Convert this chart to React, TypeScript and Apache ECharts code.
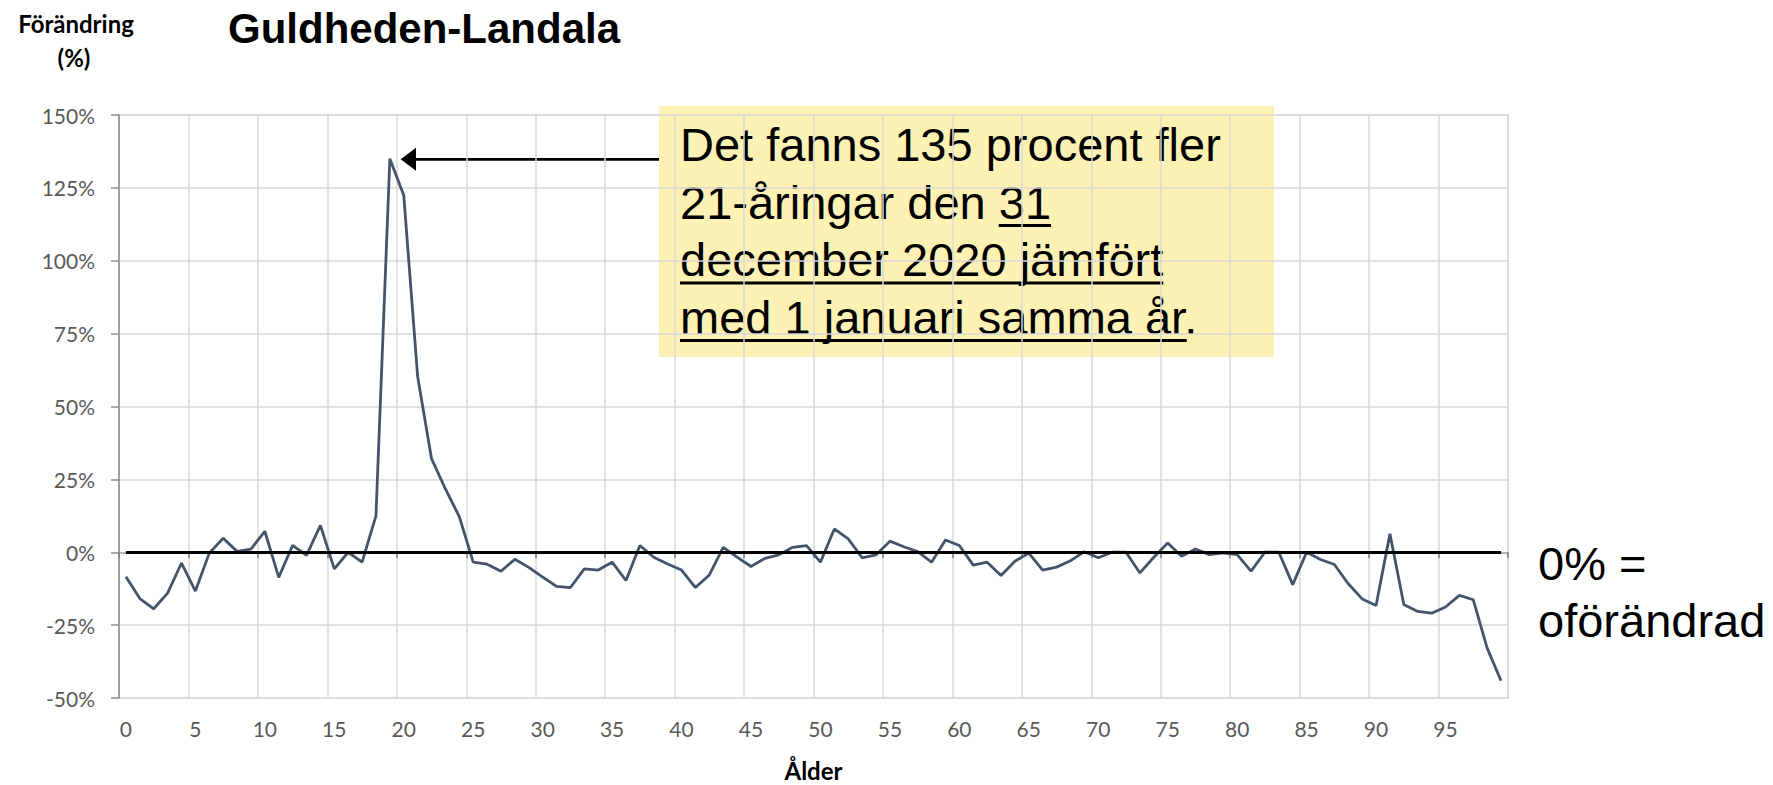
import React, { useEffect, useRef } from "react";
import * as echarts from "echarts";

// Categories: age (Ålder) 0..99
const ages: string[] = Array.from({ length: 100 }, (_, i) => String(i));

// Change in percent per age
const change: number[] = [
  -8.4, -15.9, -19.4, -14.0, -3.7, -13.3, -0.3, 4.8, 0.3, 1.1,
  7.2, -8.6, 2.4, -1.1, 9.2, -5.7, 0, -3.4, 12.5, 135,
  122.5, 60.3, 32.1, 21.7, 12.2, -3.4, -4.1, -6.5, -2.4, -5.2,
  -8.5, -11.7, -12.1, -5.7, -6.1, -3.4, -9.7, 2.3, -1.7, -4.0,
  -6.1, -12.1, -7.8, 1.7, -1.7, -4.9, -2.1, -0.9, 1.7, 2.3,
  -3.4, 8.0, 4.6, -1.9, -0.9, 3.8, 1.9, 0.2, -3.4, 4.2,
  2.3, -4.4, -3.4, -8.0, -3.1, -0.3, -6.1, -5.1, -2.9, 0.2,
  -1.9, 0, 0, -7.1, -1.7, 3.2, -1.4, 1.1, -0.8, -0.2,
  -0.8, -6.5, 0, 0, -11.1, 0, -2.5, -4.2, -10.8, -16.0,
  -18.3, 6.3, -17.9, -20.3, -20.9, -18.8, -14.8, -16.3, -32.9, -44.1,
];

const yMin = -50;
const yMax = 150;
const yStep = 25;

const titleText = "Guldheden-Landala";
const yTitleLines = ["Förändring", "(%)"];
const xTitle = "Ålder";
const noteLine1 = "Det fanns 135 procent fler";
const noteLine2a = "21-åringar den ";
const noteLine2b = "31";
const noteLine3 = "december 2020 jämfört";
const noteLine4a = "med 1 januari samma år";
const noteLine4b = ".";
const zeroNote = ["0% =", "oförändrad"];

const ANN = "'Liberation Sans', Arial, sans-serif";
const CAL = "Lato, 'Open Sans', sans-serif";

function measure(text: string, font: string): number {
  const c = document.createElement("canvas").getContext("2d");
  if (!c) return text.length * 20;
  c.font = font;
  return c.measureText(text).width;
}

function txt(x: number, y: number, text: string, fontSize: number, family: string, weight: string, align = "left") {
  return {
    type: "text",
    x,
    y,
    silent: true,
    style: {
      text,
      fill: "#000",
      fontSize,
      fontFamily: family,
      fontWeight: weight,
      textAlign: align,
      align,
      textVerticalAlign: "middle",
      verticalAlign: "middle",
    },
  };
}

export default function App() {
  const ref = useRef<HTMLDivElement>(null);
  useEffect(() => {
    if (!ref.current) return;
    const chart = echarts.init(ref.current, undefined, { renderer: "svg" });

    const fs = 47;
    const annFont = `${fs}px 'Liberation Sans'`;
    const mid = 0.3465 * fs;
    const tx = 680;
    const base = [161, 218.5, 276, 333.5];
    const ul = 7;
    const w2a = measure(noteLine2a, annFont);
    const w2b = measure(noteLine2b, annFont);
    const w3 = measure(noteLine3, annFont);
    const w4a = measure(noteLine4a, annFont);

    const uline = (x1: number, x2: number, y: number) => ({
      type: "line",
      silent: true,
      shape: { x1, y1: y, x2, y2: y },
      style: { stroke: "#000", lineWidth: 3 },
    });

    const option: any = {
      animation: false,
      backgroundColor: "#fff",
      grid: {
        left: 119,
        right: 265,
        top: 115,
        bottom: 87,
        show: true,
        borderColor: "#d9d9d9",
        borderWidth: 1.5,
        backgroundColor: "transparent",
        containLabel: false,
        outerBoundsMode: "none",
      },
      xAxis: [
        {
          type: "category",
          data: ages,
          boundaryGap: true,
          position: "bottom",
          axisLine: { show: false, onZero: false },
          axisTick: { show: false },
          axisLabel: { interval: 4, fontFamily: CAL, fontSize: 21, color: "#595959", margin: 20 },
          splitLine: { show: true, interval: 4, lineStyle: { color: "#d9d9d9", width: 1.5 } },
          name: xTitle,
          nameLocation: "middle",
          nameGap: 60,
          nameTextStyle: { fontFamily: CAL, fontWeight: "bold", fontSize: 24, color: "#000" },
        },
        {
          type: "category",
          data: ages,
          boundaryGap: true,
          position: "bottom",
          axisLine: { show: true, onZero: true, onZeroAxisIndex: 0, lineStyle: { color: "#a6a6a6", width: 1.5 } },
          axisTick: { show: true, interval: 4, length: 6, lineStyle: { color: "#7f7f7f", width: 1.5 } },
          axisLabel: { show: false },
          splitLine: { show: false },
        },
      ],
      yAxis: {
        type: "value",
        min: yMin,
        max: yMax,
        interval: yStep,
        axisLine: { show: true, lineStyle: { color: "#8c8c8c", width: 1.5 } },
        axisTick: { show: true, length: 8, lineStyle: { color: "#8c8c8c", width: 1.5 } },
        axisLabel: { formatter: "{value}%", fontFamily: CAL, fontSize: 21, color: "#595959", margin: 24 },
        splitLine: { show: true, lineStyle: { color: "#d9d9d9", width: 1.5 } },
      },
      series: [
        {
          type: "line",
          data: change,
          xAxisIndex: 0,
          yAxisIndex: 0,
          symbol: "none",
          lineStyle: { color: "#44546a", width: 2.8 },
          markLine: {
            silent: true,
            symbol: ["none", "none"],
            label: { show: false },
            lineStyle: { color: "#000", width: 3, type: "solid" },
            data: [[{ coord: [ages[0], 0] }, { coord: [ages[ages.length - 1], 0] }]],
          },
        },
      ],
      graphic: [
        txt(228, 43.3 - 0.3465 * 42, titleText, 42, ANN, "bold"),
        txt(76, 23, yTitleLines[0], 24, CAL, "bold", "center"),
        txt(74, 57, yTitleLines[1], 24, CAL, "bold", "center"),
        {
          type: "rect",
          silent: true,
          shape: { x: 659, y: 106, width: 615, height: 251 },
          style: { fill: "#fdf2b4" },
        },
        txt(tx, base[0] - mid, noteLine1, fs, ANN, "normal"),
        txt(tx, base[1] - mid, noteLine2a + noteLine2b, fs, ANN, "normal"),
        txt(tx, base[2] - mid, noteLine3, fs, ANN, "normal"),
        txt(tx, base[3] - mid, noteLine4a + noteLine4b, fs, ANN, "normal"),
        uline(tx + w2a, tx + w2a + w2b, base[1] + ul),
        uline(tx, tx + w3, base[2] + ul),
        uline(tx, tx + w4a, base[3] + ul),
        {
          type: "line",
          silent: true,
          shape: { x1: 659, y1: 159.3, x2: 412, y2: 159.3 },
          style: { stroke: "#000", lineWidth: 2.7 },
        },
        {
          type: "polygon",
          silent: true,
          shape: { points: [[400.7, 159.3], [416, 147.8], [416, 170.8]] },
          style: { fill: "#000" },
        },
        txt(1538, 580 - mid, zeroNote[0], fs, ANN, "normal"),
        txt(1538, 636.7 - mid, zeroNote[1], fs, ANN, "normal"),
      ],
    };

    chart.setOption(option);
    return () => chart.dispose();
  }, []);

  return (
    <div
      ref={ref}
      style={{ position: "absolute", left: 0, top: 0, width: 1773, height: 785, background: "#fff" }}
    />
  );
}
